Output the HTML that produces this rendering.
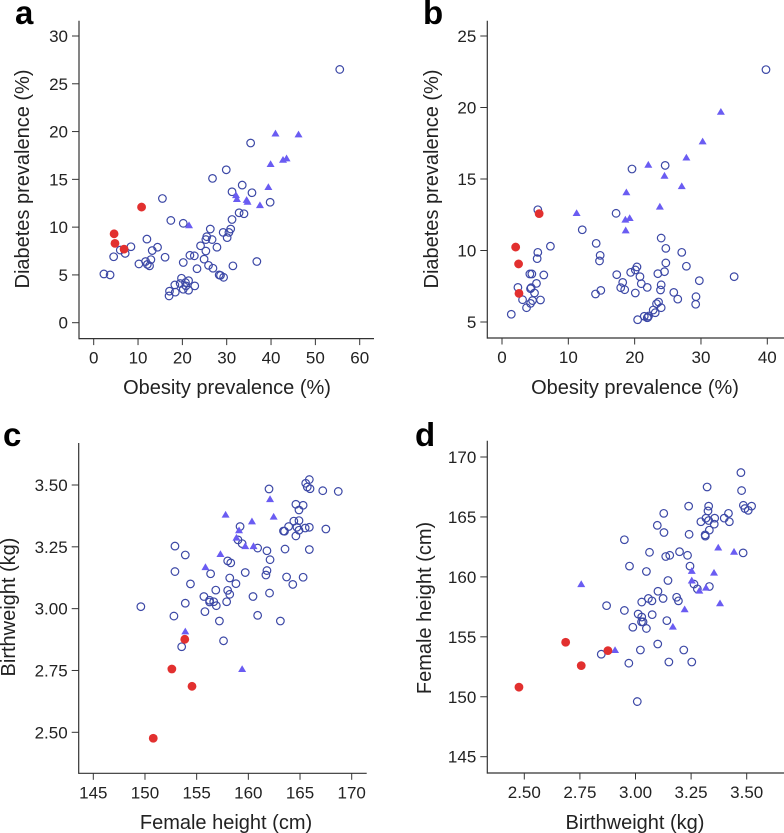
<!DOCTYPE html>
<html lang="en">
<head>
<meta charset="utf-8">
<title>Diabetes, obesity, birthweight and female height scatter plots</title>
<style>
html,body{margin:0;padding:0;background:#fff;width:784px;height:833px;overflow:hidden}
svg{display:block}
text{font-family:"Liberation Sans",Arial,sans-serif;fill:#222}
.tick{font-size:17px}
.title{font-size:20px}
.letter{font-size:33px;font-weight:bold;fill:#000}
</style>
</head>
<body>
<svg id="chart" width="784" height="833" viewBox="0 0 784 833" xmlns="http://www.w3.org/2000/svg"></svg>
<script>
// Panel a: obesity vs diabetes, set 1
const aCircleObesity = [55.5,35.4,29.9,26.8,33.5,31.2,35.7,15.5,39.8,32.8,33.9,31.2,17.4,20.2,26.3,30.9,29.2,30.5,30.1,25.5,25.3,26.7,12.0,24.1,27.8,8.4,14.4,13.2,25.3,6.0,7.1,4.5,21.7,22.7,16.1,24.9,12.9,36.8,11.7,10.2,12.1,12.6,20.2,25.9,26.9,31.4,23.3,2.3,3.7,28.3,28.6,29.3,19.8,21.4,20.7,19.5,18.3,22.8,20.8,20.2,21.4,17.1,18.4,17.0];
const aCircleDiabetes = [26.5,18.8,16.0,15.1,14.4,13.7,13.6,13.0,12.6,11.5,11.4,10.8,10.7,10.4,9.8,9.8,9.45,9.45,8.9,9.0,8.7,8.7,8.75,8.05,7.9,7.95,7.9,7.55,7.5,7.6,7.25,6.9,7.05,7.0,6.85,6.65,6.6,6.4,6.4,6.15,6.1,5.95,6.3,6.0,5.7,5.95,5.65,5.1,5.0,5.0,4.95,4.75,4.65,4.4,4.2,4.1,3.95,3.85,3.85,3.5,3.4,3.3,3.2,2.8];
const aTriangleObesity = [41.0,46.2,39.9,42.7,43.5,39.4,32.1,32.3,34.5,34.7,37.5,21.5];
const aTriangleDiabetes = [19.8,19.7,16.6,17.05,17.2,14.2,13.35,12.95,12.85,12.65,12.3,10.2];
const aRedObesity = [10.8,4.6,4.8,6.85];
const aRedDiabetes = [12.1,9.3,8.3,7.7];
const aXTicks = [0,10,20,30,40,50,60];
const aYTicks = [0,5,10,15,20,25,30];

// Panel b: obesity vs diabetes, set 2
const bCircleObesity = [39.8,19.6,24.6,5.4,17.2,12.1,14.2,24.0,24.7,27.1,7.3,5.4,5.3,14.8,14.7,24.7,27.8,20.35,20.1,19.4,24.5,23.5,20.8,35.0,17.3,18.2,6.3,4.2,4.5,5.2,21.0,29.75,24.0,21.9,17.9,18.5,23.9,2.4,4.3,4.4,14.9,14.1,25.9,20.1,4.9,29.25,26.5,3.1,5.8,4.6,4.3,3.7,29.2,23.6,23.3,24.0,22.8,23.1,1.4,21.45,22.1,21.9,22.0,20.45];
const bCircleDiabetes = [22.65,15.7,15.95,12.85,12.6,11.45,10.5,10.87,10.15,9.87,10.3,9.87,9.43,9.66,9.27,9.13,8.9,8.85,8.64,8.47,8.52,8.38,8.17,8.17,8.31,7.77,8.29,8.36,8.36,7.7,7.68,7.89,7.6,7.42,7.4,7.26,7.24,7.42,7.33,7.4,7.21,6.96,7.07,7.03,7.03,6.77,6.6,6.56,6.54,6.5,6.3,6.0,6.24,6.4,6.28,6.0,5.84,5.65,5.54,5.4,5.42,5.3,5.33,5.16];
const bTriangleObesity = [33.0,30.25,27.8,22.06,24.5,27.1,18.75,23.8,11.25,18.6,19.25,18.65];
const bTriangleDiabetes = [19.7,17.63,16.5,16.0,15.23,14.5,14.07,13.07,12.62,12.16,12.27,11.41];
const bRedObesity = [5.6,2.06,2.5,2.56];
const bRedDiabetes = [12.58,10.24,9.06,7.0];
const bXTicks = [0,10,20,30,40];
const bYTicks = [5,10,15,20,25];

// Panels c and d: the same countries with the axes swapped
const circleHeight = [168.7,167.2,167.5,165.9,165.55,165.7,165.97,162.0,164.6,165.3,164.9,164.4,164.9,163.9,163.4,163.5,164.7,164.9,165.5,165.9,164.6,159.2,159.0,159.4,152.9,160.9,161.8,163.55,165.9,153.9,162.1,158.0,158.3,161.8,161.7,152.9,159.7,156.35,158.2,163.7,165.3,164.3,158.8,154.4,156.85,158.0,158.2,162.05,155.7,160.45,156.25,156.65,156.25,156.9,157.9,153.9,149.6,155.8,160.9,152.8,163.1,157.2,157.6,153.55];
const circleBirthweight = [3.474,3.477,3.322,3.522,3.507,3.492,3.485,3.484,3.422,3.418,3.399,3.354,3.356,3.332,3.314,3.313,3.329,3.317,3.326,3.329,3.294,3.332,3.278,3.263,3.253,3.245,3.234,3.241,3.239,3.217,3.198,3.193,3.185,3.154,3.136,3.15,3.146,3.141,3.124,3.128,3.127,3.098,3.101,3.1,3.075,3.074,3.058,3.063,3.049,3.049,3.034,3.028,3.027,3.012,3.028,3.022,3.008,2.988,2.973,2.97,2.95,2.95,2.87,2.846];
const triangleHeight = [162.1,157.8,162.45,160.35,159.1,158.85,159.7,160.5,157.3,155.85,153.9,159.4];
const triangleBirthweight = [3.443,3.38,3.372,3.353,3.317,3.287,3.253,3.253,3.221,3.168,2.908,2.756];
const redHeight = [153.85,152.6,154.55,150.8];
const redBirthweight = [2.876,2.756,2.686,2.476];
const heightTicks = [145,150,155,160,165,170];
const birthweightTicks = [2.5,2.75,3.0,3.25,3.5];

const NS = 'http://www.w3.org/2000/svg';
const svg = document.getElementById('chart');
const AXIS = '#333';
const BLUE = '#3c48a6';
const VIOLET = '#6a5cf2';
const RED = '#e2302f';

function make(parent, tag, attrs, text) {
  const el = document.createElementNS(NS, tag);
  for (const k in attrs) el.setAttribute(k, attrs[k]);
  if (text !== undefined) el.textContent = text;
  parent.appendChild(el);
  return el;
}

function linear(d0, p0, d1, p1) {
  return v => p0 + (v - d0) * (p1 - p0) / (d1 - d0);
}

function drawPanel(cfg) {
  const g = make(svg, 'g', {});
  
  

  const letter = make(g, 'text', {class: 'letter', x: cfg.letterX, y: cfg.letterY}, cfg.id);
  
  

  const yAxis = make(g, 'line', {x1: cfg.left, x2: cfg.left, y1: cfg.top, y2: cfg.bottom + 0.6, stroke: AXIS, 'stroke-width': 1.2});
  
  
  const xAxis = make(g, 'line', {x1: cfg.left, x2: cfg.right, y1: cfg.bottom, y2: cfg.bottom, stroke: AXIS, 'stroke-width': 1.2});
  
  

  cfg.xTicks.forEach(t => {
    const x = cfg.sx(t);
    const tick = make(g, 'line', {x1: x, x2: x, y1: cfg.bottom, y2: cfg.bottom + 6.5, stroke: AXIS, 'stroke-width': 1});
    
    
    const label = make(g, 'text', {class: 'tick', x: x, y: cfg.bottom + 25, 'text-anchor': 'middle'}, cfg.xFormat(t));
    
    
  });
  cfg.yTicks.forEach(t => {
    const y = cfg.sy(t);
    const tick = make(g, 'line', {x1: cfg.left - 7, x2: cfg.left, y1: y, y2: y, stroke: AXIS, 'stroke-width': 1});
    
    
    const label = make(g, 'text', {class: 'tick', x: cfg.left - 11, y: y + 6, 'text-anchor': 'end'}, cfg.yFormat(t));
    
    
  });

  const xTitle = make(g, 'text', {class: 'title', x: cfg.xTitleX, y: cfg.xTitleY, 'text-anchor': 'middle'}, cfg.xTitle);
  
  
  const yTitle = make(g, 'text', {class: 'title', 'text-anchor': 'middle', transform: 'translate(' + cfg.yTitleX + ',' + cfg.yTitleY + ') rotate(-90)'}, cfg.yTitle);
  
  

  cfg.circles[0].forEach((v, i) => {
    const c = make(g, 'circle', {cx: cfg.sx(v), cy: cfg.sy(cfg.circles[1][i]), r: 3.8, fill: 'none', stroke: BLUE, 'stroke-width': 1.2});
    
    
  });
  cfg.triangles[0].forEach((v, i) => {
    const x = cfg.sx(v), y = cfg.sy(cfg.triangles[1][i]);
    const p = make(g, 'polygon', {points: (x - 4) + ',' + (y + 3) + ' ' + (x + 4) + ',' + (y + 3) + ' ' + x + ',' + (y - 3.8), fill: VIOLET});
    
    
  });
  cfg.reds[0].forEach((v, i) => {
    const c = make(g, 'circle', {cx: cfg.sx(v), cy: cfg.sy(cfg.reds[1][i]), r: 4.4, fill: RED});
    
    
  });
}

const plain = t => String(t);
const kg = t => t.toFixed(2);

drawPanel({
  id: 'a', letterX: 15, letterY: 24,
  left: 79, right: 374, top: 20.7, bottom: 338.6,
  sx: linear(0, 93.7, 60, 359.7), sy: linear(0, 322.7, 30, 36),
  xTicks: aXTicks, yTicks: aYTicks, xFormat: plain, yFormat: plain,
  xTitle: 'Obesity prevalence (%)', yTitle: 'Diabetes prevalence (%)',
  xTitleX: 227, xTitleY: 394, yTitleX: 29, yTitleY: 179,
  circles: [aCircleObesity, aCircleDiabetes],
  triangles: [aTriangleObesity, aTriangleDiabetes],
  reds: [aRedObesity, aRedDiabetes]
});

drawPanel({
  id: 'b', letterX: 423, letterY: 24,
  left: 487.3, right: 784, top: 20.7, bottom: 338,
  sx: linear(0, 502, 40, 767.3), sy: linear(5, 322, 25, 36),
  xTicks: bXTicks, yTicks: bYTicks, xFormat: plain, yFormat: plain,
  xTitle: 'Obesity prevalence (%)', yTitle: 'Diabetes prevalence (%)',
  xTitleX: 635, xTitleY: 394, yTitleX: 438, yTitleY: 179,
  circles: [bCircleObesity, bCircleDiabetes],
  triangles: [bTriangleObesity, bTriangleDiabetes],
  reds: [bRedObesity, bRedDiabetes]
});

drawPanel({
  id: 'c', letterX: 3, letterY: 446,
  left: 78.7, right: 366.7, top: 443, bottom: 773.3,
  sx: linear(145, 93.3, 170, 351.7), sy: linear(2.5, 732.3, 3.5, 485),
  xTicks: heightTicks, yTicks: birthweightTicks, xFormat: plain, yFormat: kg,
  xTitle: 'Female height (cm)', yTitle: 'Birthweight (kg)',
  xTitleX: 226, xTitleY: 829, yTitleX: 15, yTitleY: 607,
  circles: [circleHeight, circleBirthweight],
  triangles: [triangleHeight, triangleBirthweight],
  reds: [redHeight, redBirthweight]
});

drawPanel({
  id: 'd', letterX: 415, letterY: 446,
  left: 487.3, right: 784, top: 440.7, bottom: 773,
  sx: linear(2.5, 524.3, 3.5, 746.7), sy: linear(145, 756.7, 170, 457),
  xTicks: birthweightTicks, yTicks: heightTicks, xFormat: kg, yFormat: plain,
  xTitle: 'Birthweight (kg)', yTitle: 'Female height (cm)',
  xTitleX: 635, xTitleY: 829, yTitleX: 431, yTitleY: 608,
  circles: [circleBirthweight, circleHeight],
  triangles: [triangleBirthweight, triangleHeight],
  reds: [redBirthweight, redHeight]
});
</script>
</body>
</html>
